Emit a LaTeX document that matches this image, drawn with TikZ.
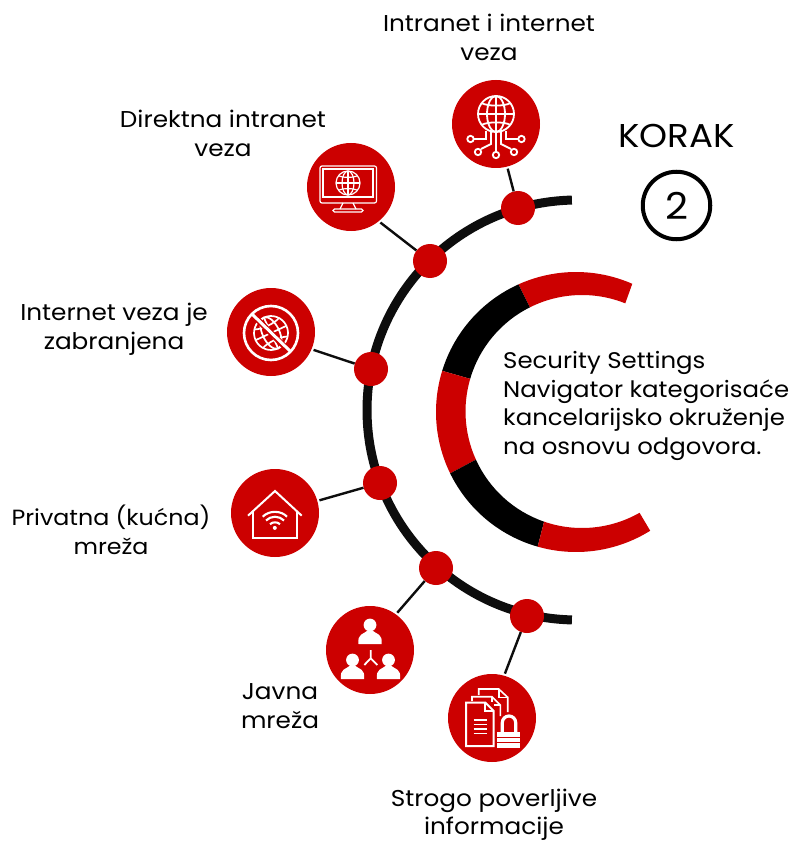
\documentclass[tikz,border=0pt]{standalone}
\usepackage{fontspec}
\setmainfont[FakeStretch=1.08]{Poppins}
\definecolor{brandred}{HTML}{CC0000}
\definecolor{arcblack}{HTML}{0D0D0D}
% colour, outer start, outer end, inner end, inner start
\newcommand{\ringseg}[5]{\fill[#1] ([shift={(#2:140)}]576,412) arc[start angle=#2,end angle=#3,radius=140] -- ([shift={(#4:116.5)}]582,411.5) arc[start angle=#4,end angle=#5,radius=116.5] -- cycle;}
\newcommand{\globeicon}[4]{%
\begin{scope}[shift={(#1,#2)},rotate=#4,draw=white,line width=#3*0.1]
\draw (0,0) circle[radius=#3];
\draw (0,0) ellipse[x radius=#3*0.5,y radius=#3];
\draw (0,-#3) -- (0,#3);
\draw (-#3,0) -- (#3,0);
\draw (-#3*0.8,-#3*0.6) .. controls (-#3*0.4,-#3*0.42) and (#3*0.4,-#3*0.42) .. (#3*0.8,-#3*0.6);
\draw (-#3*0.8,#3*0.6) .. controls (-#3*0.4,#3*0.42) and (#3*0.4,#3*0.42) .. (#3*0.8,#3*0.6);
\end{scope}}
\newcommand{\userglyph}[2]{%
\fill[white] (#1,#2-8) circle[radius=6.4];
\fill[white] (#1-11.5,#2+11) .. controls (#1-13,#2+0.5) and (#1-6,#2+1) .. (#1-3,#2-2) -- (#1+3,#2-2) .. controls (#1+6,#2+1) and (#1+13,#2+0.5) .. (#1+11.5,#2+11) -- cycle;}
\tikzset{
 x=1pt,y=-1pt,
 badge/.style={circle,fill=brandred,draw=none,minimum size=88pt,inner sep=0pt},
 dotnode/.style={circle,fill=brandred,draw=none,minimum size=34pt,inner sep=0pt},
 link/.style={draw=arcblack,line width=2.4pt,shorten <=2pt},
 lab/.style={align=center,font=\fontsize{22.9}{29}\selectfont,text=black,inner sep=0pt},
 iconw/.style={draw=white,line width=1.6pt,line join=miter},
}
\begin{document}
\begin{tikzpicture}
\useasboundingbox (0,0) rectangle (792,842);
\fill[white] (0,0) rectangle (792,842);
% big arc
\draw[arcblack,line width=9pt] ([shift={(91.4:210)}]577,410) arc[start angle=91.4,end angle=268.6,radius=210];
% inner ring
\ringseg{brandred}{293.7}{245.7}{243.4}{291.8}
\ringseg{black}{245.7}{197.1}{196.3}{243.4}
\ringseg{brandred}{197.1}{154}{155.6}{196.3}
\ringseg{black}{154}{105.9}{109}{155.6}
\ringseg{brandred}{105.9}{58}{60.4}{109}
% badges and dots
\node[badge] (b1) at (496,124) {};
\node[badge] (b2) at (351,187) {};
\node[badge] (b3) at (271,332) {};
\node[badge] (b4) at (275,513) {};
\node[badge] (b5) at (370,650) {};
\node[badge] (b6) at (492,718) {};
\node[dotnode] (d1) at (518,208) {};
\node[dotnode] (d2) at (430,261) {};
\node[dotnode] (d3) at (371,369) {};
\node[dotnode] (d4) at (380,483) {};
\node[dotnode] (d5) at (436,568) {};
\node[dotnode] (d6) at (527,616) {};
\draw[link] (b1) -- (d1);
\draw[link] (b2.-51) -- (d2);
\draw[link] (b3.-23) -- (d3);
\draw[link] (b4) -- (d4);
\draw[link] (b5.54) -- (d5);
\draw[link] (b6.74) -- (d6);
% labels
\node[lab] (t1) at (489,37) {Intranet i internet\\veza};
\node[lab] (t2) at (223,133) {Direktna intranet\\veza};
\node[lab] (t3) at (114,329) {Internet veza je\\zabranjena};
\node[lab,font=\fontsize{22}{28.5}\selectfont] (t4) at (111,530) {Privatna (kućna)\\mreža};
\node[lab] (t5) at (280,706) {Javna\\mreža};
\node[lab,font=\fontsize{22.9}{28}\selectfont] (t6) at (494,815) {Strogo poverljive\\informacije};
\node[align=left,anchor=west,font=\fontsize{22.6}{28.7}\selectfont,inner sep=0pt] (main) at (503,406) {Security Settings\\Navigator kategorisaće\\kancelarijsko okruženje\\na osnovu odgovora.};
\node[font=\fontsize{33}{36}\selectfont,inner sep=0pt] (korak) at (676.5,136) {KORAK};
\node[circle,draw=black,line width=4pt,minimum size=67.5pt,inner sep=0pt,font=\fontsize{37}{40}\selectfont] (two) at (676.5,205.5) {2};
% icon 1: globe network
\globeicon{496}{114}{18}{0}
\begin{scope}[iconw,line width=1.8pt]
\draw (486,131) -- (486,139) -- (474,139);
\draw (470.5,139) circle[radius=3.2];
\draw (491,132) -- (491,144) -- (481,149);
\draw (478,152) circle[radius=3.2];
\draw (496,132) -- (496,151.5);
\draw (496,155) circle[radius=3.2];
\draw (501,132) -- (501,144) -- (511,149);
\draw (514,152) circle[radius=3.2];
\draw (506,131) -- (506,139) -- (518,139);
\draw (521.5,139) circle[radius=3.2];
\end{scope}
% icon 2: monitor with globe
\begin{scope}[iconw,line width=1.2pt]
\draw[rounded corners=2pt] (320,166) rectangle (376.5,203);
\draw (323,169) rectangle (373,197);
\draw (343,203) -- (340,209);
\draw (353,203) -- (356,209);
\draw[rounded corners=1.5pt] (333,209) rectangle (363,212);
\end{scope}
\globeicon{348}{183}{12}{0}
% icon 3: forbidden globe
\globeicon{271}{333}{17}{25}
\draw[white,line width=2.6pt] (271,333) circle[radius=27];
\draw[brandred,line width=6pt] (256,318) -- (286,348);
\draw[white,line width=3pt] (252.5,314.5) -- (290,351);
% icon 4: house with wifi
\begin{scope}[iconw,line width=2pt]
\draw (248,515.7) -- (275,491) -- (301.7,515.7);
\draw (253,511) -- (253,537.7) -- (297,537.7) -- (297,511);
\end{scope}
\begin{scope}[draw=white,line width=2.1pt]
\draw (262.7,516.7) .. controls (269,510.2) and (281,510.2) .. (287,516.7);
\draw (266,520.5) .. controls (271,515.5) and (279,515.5) .. (284,520.5);
\draw (270,524.2) .. controls (272.5,521.7) and (277.5,521.7) .. (280,524.2);
\end{scope}
\fill[white] (274.8,527.9) circle[radius=2];
% icon 5: three users
\userglyph{370}{633}
\userglyph{352.5}{668}
\userglyph{388.5}{668}
\draw[white,line width=1.8pt] (370.7,650) -- (370.7,658.3) -- (364.3,665);
\draw[white,line width=1.8pt] (370.7,658.3) -- (377.3,665);
% icon 6: documents and lock
\begin{scope}[iconw,line width=1.6pt]
\draw (478.7,695) -- (478.7,689) -- (498.7,689) -- (507.7,697.3) -- (507.7,712);
\draw (498.7,689) -- (498.7,697.3) -- (507.7,697.3);
\draw (472,701) -- (472,696.7) -- (492,696.7) -- (500.3,705) -- (500.3,716);
\draw (492,696.7) -- (492,705) -- (500.3,705);
\end{scope}
\fill[brandred] (466,702) rectangle (494,746);
\begin{scope}[iconw,line width=2pt]
\draw (466,702.5) -- (485.3,702.5) -- (493.7,711) -- (493.7,746) -- (466,746) -- cycle;
\draw (485.3,702.5) -- (485.3,711) -- (493.7,711);
\draw[line width=1.5pt] (473.7,720) -- (487,720);
\draw[line width=1.5pt] (473.7,724.5) -- (487,724.5);
\draw[line width=1.5pt] (473.7,729) -- (487,729);
\draw[line width=1.5pt] (473.7,733.5) -- (487,733.5);
\draw[line width=3.2pt] (502.3,732) -- (502.3,722.7) arc[start angle=180,end angle=360,radius=6.7] -- (515.7,732);
\end{scope}
\fill[white] (497,731.7) rectangle (519.7,737);
\fill[white] (497,738.2) rectangle (519.7,742);
\fill[white] (497,743.3) rectangle (519.7,747.7);
\end{tikzpicture}
\end{document}
